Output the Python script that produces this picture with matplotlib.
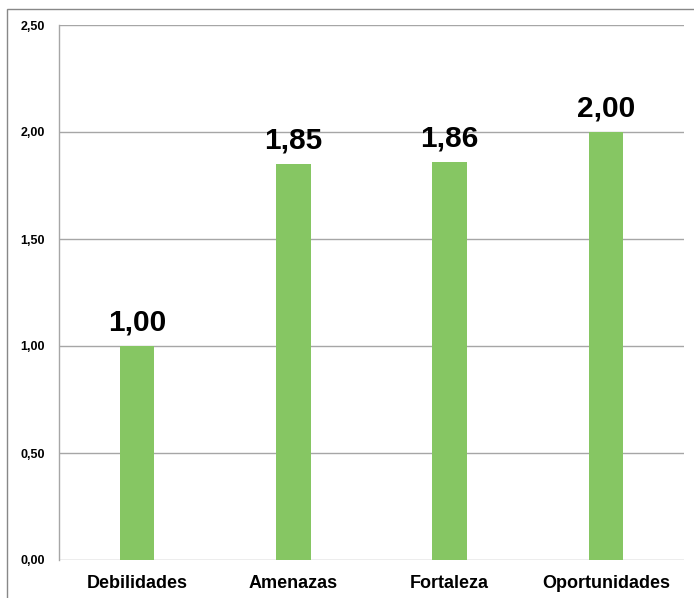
import matplotlib
matplotlib.use("Agg")
import matplotlib.pyplot as plt
from matplotlib.patches import Rectangle

categories = ["Debilidades", "Amenazas", "Fortaleza", "Oportunidades"]
values = [1.00, 1.85, 1.86, 2.00]
yticks = [0.0, 0.5, 1.0, 1.5, 2.0, 2.5]

plt.rcParams['font.family'] = ['Liberation Sans', 'DejaVu Sans']

fig = plt.figure(figsize=(6.94, 5.98), dpi=100)
ax = fig.add_axes([59/694, 1-560/598, (684-59)/694, (560-25)/598])

x = list(range(len(categories)))
bars = ax.bar(x, values, width=0.22, color="#86C663", zorder=3)
for xi, v in zip(x, values):
    ax.text(xi, v + 0.045, f"{v:.2f}".replace(".", ","), ha="center", va="bottom",
            fontsize=21.5, fontweight="bold", color="black")

ax.set_xlim(-0.5, len(categories) - 0.5)
ax.set_ylim(0, 2.5)
ax.set_yticks(yticks)
ax.set_yticklabels([f"{t:.2f}".replace(".", ",") for t in yticks], fontsize=9, fontweight="bold")
ax.set_xticks(x)
ax.set_xticklabels(categories, fontsize=13, fontweight="bold")
ax.tick_params(axis="y", length=0, pad=10)
ax.tick_params(axis="x", length=0, pad=11)
ax.yaxis.grid(True, color="#a6a6a6", lw=1)
ax.set_axisbelow(True)
for s in ["top", "right", "bottom"]:
    ax.spines[s].set_visible(False)
ax.spines["left"].set_color("#a6a6a6")
ax.spines["left"].set_linewidth(1)

fig.patches.append(Rectangle((7/694, -0.1), 1.2, 1 - 9/598 + 0.1, transform=fig.transFigure,
                             fill=False, edgecolor="#888888", lw=1))

fig.savefig("out.png", dpi=100)
